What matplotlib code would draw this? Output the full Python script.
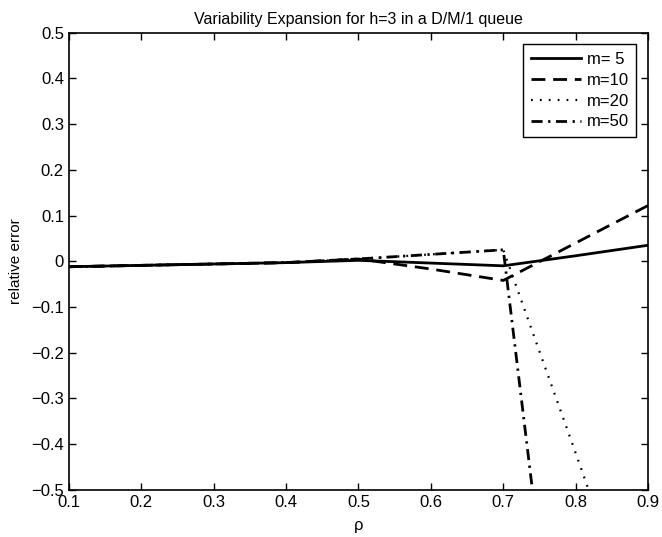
import matplotlib
matplotlib.use("Agg")
import matplotlib.pyplot as plt

plt.rcParams["font.family"] = ["Liberation Sans", "DejaVu Sans"]

rho = [0.1, 0.2, 0.3, 0.4, 0.5, 0.6, 0.7, 0.8, 0.9]
err_m5 = [-0.012, -0.009, -0.006, -0.003, 0.002, -0.004, -0.010, 0.012, 0.035]
err_m10 = [-0.012, -0.009, -0.006, -0.003, 0.005, -0.017, -0.042, 0.040, 0.122]
err_m20 = [-0.012, -0.009, -0.006, -0.003, 0.005, 0.015, 0.025, -0.42, -0.87]
err_m50 = [-0.012, -0.009, -0.006, -0.003, 0.005, 0.015, 0.025, -1.28, -2.6]
labels = ["m= 5", "m=10", "m=20", "m=50"]

fig = plt.figure(figsize=(6.62, 5.37), dpi=100)
ax = fig.add_axes([0.104, 0.088, 0.875, 0.851])

ax.plot(rho, err_m5, color="black", lw=2.0, ls="-", label=labels[0])
ax.plot(rho, err_m10, color="black", lw=2.0, ls=(0, (5, 2.8)), label=labels[1])
ax.plot(rho, err_m20, color="black", lw=1.6, ls=(0, (0.8, 3.2)), label=labels[2])
ax.plot(rho, err_m50, color="black", lw=2.0, ls=(0, (4, 2, 0.8, 2)), label=labels[3])

ax.set_xlim(0.1, 0.9)
ax.set_ylim(-0.5, 0.5)
ax.set_xticks([0.1, 0.2, 0.3, 0.4, 0.5, 0.6, 0.7, 0.8, 0.9])
ax.set_yticks([-0.5, -0.4, -0.3, -0.2, -0.1, 0, 0.1, 0.2, 0.3, 0.4, 0.5])
ax.set_yticklabels(["\u22120.5", "\u22120.4", "\u22120.3", "\u22120.2", "\u22120.1",
                    "0", "0.1", "0.2", "0.3", "0.4", "0.5"])
ax.tick_params(direction="in", top=True, right=True, labelsize=12, length=5, width=1)
for s in ax.spines.values():
    s.set_linewidth(1.2)

ax.set_xlabel("\u03c1", fontsize=12, labelpad=6)
ax.set_ylabel("relative error", fontsize=11, labelpad=6)
ax.set_title("Variability Expansion for h=3 in a D/M/1 queue", fontsize=11.5, pad=6)

leg = ax.legend(loc="upper right", fontsize=12, handlelength=3.0, handletextpad=0.35,
                labelspacing=0.35, borderpad=0.45, fancybox=False, framealpha=1,
                borderaxespad=0.7)
leg.get_frame().set_edgecolor("black")
leg.get_frame().set_linewidth(1.0)

fig.savefig("out.png", dpi=100)
